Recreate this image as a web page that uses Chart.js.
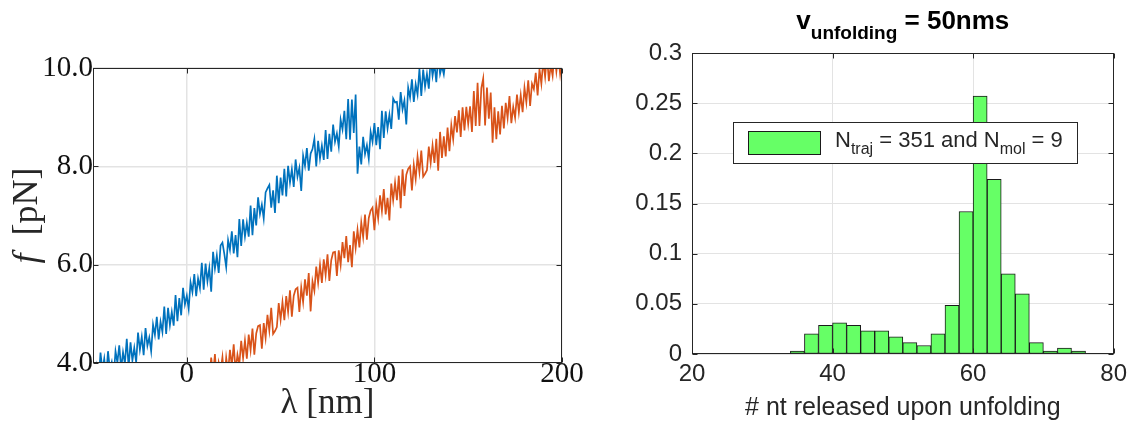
<!DOCTYPE html>
<html>
<head>
<meta charset="utf-8">
<script src="https://cdn.jsdelivr.net/npm/chart.js@4.4.1/dist/chart.umd.min.js"></script>
<style>
  html, body { margin: 0; padding: 0; background: #fff; }
  #left-box { position: absolute; left: 0; top: 0; width: 600px; height: 422px; }
  #right-box { position: absolute; left: 600px; top: 0; width: 533px; height: 422px; }
</style>
</head>
<body>
<div id="left-box"><canvas id="chart-force"></canvas></div>
<div id="right-box"><canvas id="chart-hist"></canvas></div>
<script>
// lewy panel: dwie krzywe siła-wydłużenie
const blueLambda = [
  -50, -49, -48, -47, -46, -45, -44, -43, -42, -41,
  -40, -39, -38, -37, -36, -35, -34, -33, -32, -31,
  -30, -29, -28, -27, -26, -25, -24, -23, -22, -21,
  -20, -19, -18, -17, -16, -15, -14, -13, -12, -11,
  -10, -9, -8, -7, -6, -5, -4, -3, -2, -1,
  0, 1, 2, 3, 4, 5, 6, 7, 8, 9,
  10, 11, 12, 13, 14, 15, 16, 17, 18, 19,
  20, 21, 22, 23, 24, 25, 26, 27, 28, 29,
  30, 31, 32, 33, 34, 35, 36, 37, 38, 39,
  40, 41, 42, 43, 44, 45, 46, 47, 48, 49,
  50, 51, 52, 53, 54, 55, 56, 57, 58, 59,
  60, 61, 62, 63, 64, 65, 66, 67, 68, 69,
  70, 71, 72, 73, 74, 75, 76, 77, 78, 79,
  80, 81, 82, 83, 84, 85, 86, 87, 88, 89,
  90, 91, 92, 93, 94, 95, 96, 97, 98, 99,
  100, 101, 102, 103, 104, 105, 106, 107, 108, 109,
  110, 111, 112, 113, 114, 115, 116, 117, 118, 119,
  120, 121, 122, 123, 124, 125, 126, 127, 128, 129,
  130, 131, 132, 133, 134, 135, 136, 137, 138
];
const blueForce = [
  4.07, 3.69, 3.93, 3.62, 4.21, 3.85, 4.09, 3.71, 4.24, 3.87,
  4.02, 3.72, 4.24, 4.01, 4.36, 3.88, 4.22, 3.99, 4.49, 3.91,
  4.42, 4.05, 4.31, 4.01, 4.62, 4.27, 4.53, 4.16, 4.71, 4.35,
  4.52, 4.24, 4.78, 4.57, 4.94, 4.48, 4.84, 4.63, 5.15, 4.59,
  5.12, 4.77, 5.04, 4.76, 5.38, 4.85, 5.32, 4.97, 5.53, 5.19,
  5.37, 5.10, 5.64, 5.44, 5.81, 5.36, 5.72, 5.52, 6.04, 5.49,
  6.02, 5.66, 5.93, 5.45, 6.26, 5.92, 6.19, 5.83, 6.39, 6.45,
  6.22, 5.95, 6.50, 6.30, 6.68, 6.23, 6.60, 6.15, 6.93, 6.38,
  6.92, 6.57, 6.85, 6.57, 7.20, 6.60, 7.15, 6.80, 7.37, 7.03,
  7.22, 6.94, 7.47, 7.55, 7.62, 7.16, 7.51, 7.05, 7.81, 7.25,
  7.77, 7.41, 7.95, 7.39, 8.01, 7.67, 7.94, 7.58, 8.14, 7.79,
  7.97, 7.50, 8.22, 8.01, 8.37, 7.91, 8.26, 8.35, 8.56, 8.00,
  8.52, 8.16, 8.42, 8.13, 8.74, 8.15, 8.66, 8.30, 8.85, 8.50,
  8.67, 8.40, 8.95, 8.75, 9.13, 8.55, 9.37, 8.54, 9.36, 8.68,
  9.46, 7.85, 8.40, 8.04, 8.60, 8.25, 8.43, 8.15, 8.70, 8.50,
  8.88, 8.43, 8.80, 8.35, 9.13, 8.58, 9.12, 8.77, 9.05, 8.76,
  9.38, 9.30, 9.31, 8.95, 9.51, 9.16, 9.34, 8.85, 9.60, 9.40,
  9.77, 9.31, 9.67, 9.46, 9.98, 9.43, 9.97, 9.62, 9.88, 9.58,
  10.19, 9.84, 10.09, 9.71, 10.25, 9.88, 10.04, 9.87, 10.18
];
const orangeLambda = [
  12, 13, 14, 15, 16, 17, 18, 19, 20, 21,
  22, 23, 24, 25, 26, 27, 28, 29, 30, 31,
  32, 33, 34, 35, 36, 37, 38, 39, 40, 41,
  42, 43, 44, 45, 46, 47, 48, 49, 50, 51,
  52, 53, 54, 55, 56, 57, 58, 59, 60, 61,
  62, 63, 64, 65, 66, 67, 68, 69, 70, 71,
  72, 73, 74, 75, 76, 77, 78, 79, 80, 81,
  82, 83, 84, 85, 86, 87, 88, 89, 90, 91,
  92, 93, 94, 95, 96, 97, 98, 99, 100, 101,
  102, 103, 104, 105, 106, 107, 108, 109, 110, 111,
  112, 113, 114, 115, 116, 117, 118, 119, 120, 121,
  122, 123, 124, 125, 126, 127, 128, 129, 130, 131,
  132, 133, 134, 135, 136, 137, 138, 139, 140, 141,
  142, 143, 144, 145, 146, 147, 148, 149, 150, 151,
  152, 153, 154, 155, 156, 157, 158, 159, 160, 161,
  162, 163, 164, 165, 166, 167, 168, 169, 170, 171,
  172, 173, 174, 175, 176, 177, 178, 179, 180, 181,
  182, 183, 184, 185, 186, 187, 188, 189, 190, 191,
  192, 193, 194, 195, 196, 197, 198, 199, 200
];
const orangeForce = [
  3.65, 4.11, 3.77, 4.18, 3.61, 4.01, 3.84, 4.12, 3.60, 4.11,
  3.81, 4.27, 3.94, 4.38, 3.84, 4.17, 3.97, 4.45, 4.10, 4.46,
  4.09, 4.58, 4.26, 4.70, 4.17, 4.60, 4.75, 4.77, 4.29, 4.81,
  4.51, 4.98, 4.66, 5.12, 4.59, 4.65, 4.73, 5.22, 4.88, 5.24,
  4.87, 5.36, 5.04, 5.48, 4.94, 5.37, 5.50, 5.53, 5.04, 5.54,
  5.24, 5.70, 5.37, 5.83, 5.05, 5.66, 5.47, 5.96, 5.63, 6.00,
  5.63, 6.11, 5.79, 6.21, 5.67, 6.09, 6.25, 6.26, 5.77, 6.29,
  5.99, 6.46, 6.13, 6.58, 6.05, 6.40, 5.95, 6.68, 6.34, 6.71,
  6.35, 6.86, 6.56, 7.02, 6.51, 6.95, 7.10, 7.16, 6.70, 7.22,
  6.94, 7.41, 7.09, 7.54, 7.02, 7.36, 6.90, 7.65, 7.31, 7.67,
  7.31, 7.81, 7.15, 7.94, 7.40, 7.83, 7.95, 8.00, 7.51, 8.03,
  7.74, 8.20, 7.88, 8.32, 7.79, 7.85, 7.92, 8.40, 8.07, 8.43,
  8.07, 8.56, 7.91, 8.70, 8.17, 8.61, 8.20, 8.79, 8.31, 8.84,
  8.55, 9.02, 8.69, 9.14, 8.60, 9.20, 8.73, 9.21, 8.86, 9.22,
  8.70, 9.53, 8.82, 9.70, 8.82, 9.59, 9.79, 8.83, 9.60, 8.97,
  9.50, 8.48, 9.20, 8.55, 9.12, 8.65, 9.23, 8.77, 9.29, 8.98,
  9.43, 8.88, 9.21, 8.99, 9.46, 9.10, 9.45, 9.10, 9.60, 9.30,
  9.75, 9.23, 9.68, 9.57, 9.90, 9.44, 9.98, 9.68, 10.15, 9.82,
  10.26, 9.73, 10.06, 9.84, 10.29, 9.93, 10.27, 9.88, 10.20
];
const forceXTicks = [0, 100, 200];
const forceYTicks = [4, 6, 8, 10];

// prawy panel: histogram
const binCenters = [21, 23, 25, 27, 29, 31, 33, 35, 37, 39, 41, 43, 45, 47, 49,
                    51, 53, 55, 57, 59, 61, 63, 65, 67, 69, 71, 73, 75, 77, 79];
const binFractions = [0, 0, 0, 0, 0, 0, 0, 0.003, 0.020, 0.0285, 0.031, 0.0285, 0.023, 0.023, 0.017,
                      0.0114, 0.0085, 0.020, 0.0485, 0.142, 0.257, 0.174, 0.080, 0.060, 0.0114, 0.003, 0.006, 0.003, 0, 0];
const histXTicks = [20, 40, 60, 80];
const histYTicks = [0, 0.05, 0.1, 0.15, 0.2, 0.25, 0.3];

const AXIS = '#262626';
const GRID = '#e3e3e3';

// ramka osi z krótkimi kreskami do środka (jak w Matlabie)
const axesBox = {
  id: 'axesBox',
  afterDatasetsDraw(chart) {
    const { ctx, chartArea: a, scales: { x, y } } = chart;
    const L = Math.round(a.left) + 0.5, R = Math.round(a.right) - 0.5;
    const T = Math.round(a.top) + 0.5, B = Math.round(a.bottom) - 0.5;
    ctx.save();
    ctx.strokeStyle = AXIS;
    ctx.lineWidth = 1;
    ctx.beginPath();
    x.ticks.forEach(t => {
      const px = Math.round(x.getPixelForValue(t.value)) + 0.5;
      ctx.moveTo(px, B); ctx.lineTo(px, B - 5);
      ctx.moveTo(px, T); ctx.lineTo(px, T + 5);
    });
    y.ticks.forEach(t => {
      const py = Math.round(y.getPixelForValue(t.value)) + 0.5;
      ctx.moveTo(L, py); ctx.lineTo(L + 5, py);
      ctx.moveTo(R, py); ctx.lineTo(R - 5, py);
    });
    ctx.stroke();
    ctx.strokeRect(L, T, R - L, B - T);
    ctx.restore();
  }
};

function drawRich(ctx, parts, x, y, center) {
  let total = 0;
  parts.forEach(p => { ctx.font = p.font; p.w = ctx.measureText(p.text).width; total += p.w; });
  let cx = center ? x - total / 2 : x;
  ctx.textAlign = 'left';
  ctx.textBaseline = 'alphabetic';
  parts.forEach(p => { ctx.font = p.font; ctx.fillText(p.text, cx, y + (p.dy || 0)); cx += p.w; });
}

// tytuły osi lewego wykresu (kursywa f)
const forceTitles = {
  id: 'forceTitles',
  afterDraw(chart) {
    const { ctx, chartArea: a } = chart;
    ctx.save();
    ctx.fillStyle = AXIS;
    drawRich(ctx, [{ text: 'λ [nm]', font: '35px "Liberation Serif"' }], (a.left + a.right) / 2, 413, true);
    ctx.translate(37, (a.top + a.bottom) / 2);
    ctx.rotate(-Math.PI / 2);
    drawRich(ctx, [
      { text: 'f', font: 'italic 36px "Liberation Serif"' },
      { text: '  [pN]', font: '36px "Liberation Serif"' }
    ], 0, 0, true);
    ctx.restore();
  }
};

// tytuł i legenda z indeksami dolnymi
const histDecor = {
  id: 'histDecor',
  afterDraw(chart) {
    const { ctx, chartArea: a } = chart;
    ctx.save();
    ctx.fillStyle = '#000';
    drawRich(ctx, [
      { text: 'v', font: 'bold 26px "Liberation Sans"' },
      { text: 'unfolding', font: 'bold 19px "Liberation Sans"', dy: 10 },
      { text: ' = 50nms', font: 'bold 26px "Liberation Sans"' }
    ], (a.left + a.right) / 2, 29, true);

    ctx.fillStyle = '#fff';
    ctx.strokeStyle = AXIS;
    ctx.lineWidth = 1;
    ctx.fillRect(133.5, 122.5, 344, 41);
    ctx.strokeRect(133.5, 122.5, 344, 41);
    ctx.fillStyle = '#66ff66';
    ctx.fillRect(148.5, 131.5, 72, 23);
    ctx.strokeStyle = '#1a1a1a';
    ctx.strokeRect(148.5, 131.5, 72, 23);
    ctx.fillStyle = AXIS;
    drawRich(ctx, [
      { text: 'N', font: '22px "Liberation Sans"' },
      { text: 'traj', font: '16px "Liberation Sans"', dy: 7 },
      { text: ' = 351 and N', font: '22px "Liberation Sans"' },
      { text: 'mol', font: '16px "Liberation Sans"', dy: 7 },
      { text: ' = 9', font: '22px "Liberation Sans"' }
    ], 235, 147, false);
    ctx.restore();
  }
};

new Chart(document.getElementById('chart-force'), {
  type: 'line',
  data: {
    datasets: [
      {
        label: 'trace 1',
        data: blueLambda.map((x, i) => ({ x, y: blueForce[i] })),
        borderColor: '#0072bd',
        borderWidth: 1.7,
        pointRadius: 0,
        clip: 0
      },
      {
        label: 'trace 2',
        data: orangeLambda.map((x, i) => ({ x, y: orangeForce[i] })),
        borderColor: '#d95319',
        borderWidth: 1.7,
        pointRadius: 0,
        clip: 0
      }
    ]
  },
  options: {
    animation: false,
    responsive: true,
    maintainAspectRatio: false,
    layout: { padding: { top: 68, right: 38, left: 0, bottom: 0 } },
    plugins: { legend: { display: false }, tooltip: { enabled: false } },
    scales: {
      x: {
        type: 'linear',
        min: -50,
        max: 200,
        afterBuildTicks: s => { s.ticks = forceXTicks.map(v => ({ value: v })); },
        afterFit: s => { s.height = 59; },
        grid: { color: GRID, lineWidth: 1.5, drawTicks: false },
        border: { display: false },
        ticks: {
          font: { family: 'Liberation Serif', size: 29 },
          color: '#111',
          padding: -6,
          maxRotation: 0,
          callback: v => String(v)
        }
      },
      y: {
        min: 4,
        max: 10,
        afterBuildTicks: s => { s.ticks = forceYTicks.map(v => ({ value: v })); },
        afterFit: s => { s.width = 93; },
        grid: { color: GRID, lineWidth: 1.5, drawTicks: false },
        border: { display: false },
        ticks: {
          font: { family: 'Liberation Serif', size: 29 },
          color: '#111',
          padding: 0,
          callback: v => v.toFixed(1)
        }
      }
    }
  },
  plugins: [axesBox, forceTitles]
});

new Chart(document.getElementById('chart-hist'), {
  type: 'bar',
  data: {
    datasets: [{
      label: 'N_traj = 351 and N_mol = 9',
      data: binCenters.map((x, i) => ({ x, y: binFractions[i] })),
      backgroundColor: '#66ff66',
      borderColor: '#1a1a1a',
      borderWidth: 1,
      borderSkipped: false,
      barPercentage: 1,
      categoryPercentage: 1
    }]
  },
  options: {
    animation: false,
    responsive: true,
    maintainAspectRatio: false,
    layout: { padding: { top: 53, right: 14, left: 0, bottom: 0 } },
    plugins: { legend: { display: false }, tooltip: { enabled: false } },
    scales: {
      x: {
        type: 'linear',
        min: 20,
        max: 80,
        offset: false,
        afterBuildTicks: s => { s.ticks = histXTicks.map(v => ({ value: v })); },
        afterFit: s => { s.height = 68; },
        grid: { color: GRID, lineWidth: 1, drawTicks: false, offset: false },
        border: { display: false },
        ticks: {
          font: { family: 'Liberation Sans', size: 24 },
          color: AXIS,
          padding: 6,
          maxRotation: 0
        },
        title: {
          display: true,
          text: '# nt released upon unfolding',
          font: { family: 'Liberation Sans', size: 25 },
          color: AXIS,
          padding: { top: 0, bottom: -1 }
        }
      },
      y: {
        min: 0,
        max: 0.3,
        afterBuildTicks: s => { s.ticks = histYTicks.map(v => ({ value: v })); },
        afterFit: s => { s.width = 92; },
        grid: { color: GRID, lineWidth: 1, drawTicks: false },
        border: { display: false },
        ticks: {
          font: { family: 'Liberation Sans', size: 24 },
          color: AXIS,
          padding: 10,
          callback: v => String(+v.toFixed(2))
        }
      }
    }
  },
  plugins: [axesBox, histDecor]
});
</script>
</body>
</html>
